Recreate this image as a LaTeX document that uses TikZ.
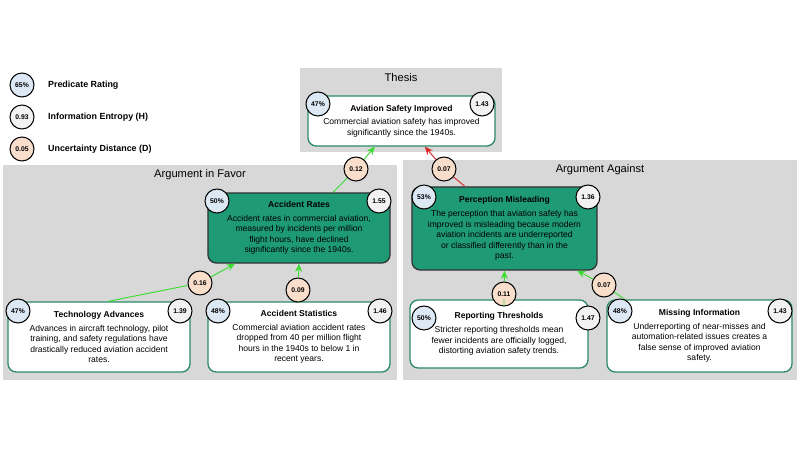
\documentclass[tikz,border=0pt]{standalone}
\usepackage{fontspec}
\setmainfont{Liberation Sans}
\usetikzlibrary{arrows.meta, positioning}
\definecolor{panelgray}{RGB}{216,216,216}
\definecolor{boxgreen}{RGB}{42,138,104}
\definecolor{darkfill}{RGB}{30,154,116}
\definecolor{ratefill}{RGB}{220,232,244}
\definecolor{entfill}{RGB}{242,242,242}
\definecolor{distfill}{RGB}{250,222,204}
\definecolor{proline}{RGB}{60,220,50}
\definecolor{conline}{RGB}{220,40,40}
\tikzset{
  panel/.style={fill=panelgray, draw=none},
  paneltitle/.style={font=\fontsize{9.5}{11}\selectfont},
  claim/.style={draw=boxgreen, fill=white, line width=1.1pt, rounded corners=7pt, align=center,
    font=\fontsize{7.3}{8.9}\selectfont, inner sep=2pt},
  keyclaim/.style={claim, draw=black!80, fill=darkfill},
  badge/.style={circle, draw=black, line width=0.9pt, minimum size=0.72cm, inner sep=0pt,
    font=\bfseries\fontsize{5.8}{6.5}\selectfont},
  rate/.style={badge, fill=ratefill},
  ent/.style={badge, fill=entfill},
  dist/.style={badge, fill=distfill},
  pro/.style={draw=proline, line width=0.8pt, -{Stealth[length=7pt,width=6pt]}},
  con/.style={draw=conline, line width=0.8pt, -{Stealth[length=7pt,width=6pt]}},
  legendtext/.style={anchor=west, font=\bfseries\fontsize{7.6}{9}\selectfont}
}
\begin{document}
\begin{tikzpicture}[x=0.03cm, y=-0.03cm]
\useasboundingbox (0,0) rectangle (800,450);
% panels
\fill[panel] (300,68) rectangle (502,152);
\fill[panel] (3,165) rectangle (397,380);
\fill[panel] (403,160) rectangle (797,380);
\node[paneltitle] (thesislbl) at (401,78) {Thesis};
\node[paneltitle] (favorlbl) at (200,175) {Argument in Favor};
\node[paneltitle] (againstlbl) at (600,170) {Argument Against};

% legend
\node[rate] (lrate) at (22,85) {65\%};
\node[ent] (lent) at (22,117) {0.93};
\node[dist] (ldist) at (22,149) {0.05};
\node[legendtext] (lratet) at (44,85) {Predicate Rating};
\node[legendtext] (lentt) at (44,117) {Information Entropy (H)};
\node[legendtext] (ldistt) at (44,149) {Uncertainty Distance (D)};

% claims
\node[claim, minimum width=5.61cm, minimum height=1.5cm] (th) at (401.5,121)
  {\textbf{Aviation Safety Improved}\\[3pt]Commercial aviation safety has improved\\significantly since the 1940s.};
\node[keyclaim, minimum width=5.46cm, minimum height=2.1cm] (ar) at (299,228)
  {\textbf{Accident Rates}\\[3pt]Accident rates in commercial aviation,\\measured by incidents per million\\flight hours, have declined\\significantly since the 1940s.};
\node[keyclaim, minimum width=5.55cm, minimum height=2.49cm] (pm) at (504.5,228.5)
  {\textbf{Perception Misleading}\\[3pt]The perception that aviation safety has\\improved is misleading because modern\\aviation incidents are underreported\\or classified differently than in the\\past.};
\node[claim, minimum width=5.46cm, minimum height=2.1cm] (ta) at (99,337)
  {\textbf{Technology Advances}\\[3pt]Advances in aircraft technology, pilot\\training, and safety regulations have\\drastically reduced aviation accident\\rates.};
\node[claim, minimum width=5.46cm, minimum height=2.1cm] (as) at (299,337)
  {\textbf{Accident Statistics}\\[3pt]Commercial aviation accident rates\\dropped from 40 per million flight\\hours in the 1940s to below 1 in\\recent years.};
\node[claim, minimum width=5.34cm, minimum height=2.04cm] (rt) at (499,334)
  {\textbf{Reporting Thresholds}\\[3pt]Stricter reporting thresholds mean\\fewer incidents are officially logged,\\distorting aviation safety trends.};
\node[claim, minimum width=5.55cm, minimum height=2.16cm] (mi) at (699.5,336)
  {\textbf{Missing Information}\\[3pt]Underreporting of near-misses and\\automation-related issues creates a\\false sense of improved aviation\\safety.};

% connectors
\node[dist] (d1) at (356,169) {0.12};
\node[dist] (d2) at (444,169) {0.07};
\node[dist] (d3) at (200,283) {0.16};
\node[dist] (d4) at (298,290) {0.09};
\node[dist] (d5) at (504,294) {0.11};
\node[dist] (d6) at (604,285) {0.07};
\draw[pro] ([xshift=1.02cm]ar.north) -- (d1) -- ([xshift=-0.8cm]th.south);
\draw[con] ([xshift=-1.19cm]pm.north) -- (d2) -- ([xshift=0.7cm]th.south);
\draw[pro] ([xshift=0.27cm]ta.north) -- (d3) -- ([xshift=-1.92cm]ar.south);
\draw[pro] (as.north) -- (d4) -- (ar.south);
\draw[pro] ([xshift=0.15cm]rt.north) -- (d5) -- (pm.south);
\draw[pro] ([xshift=-2.24cm]mi.north) -- (d6) -- ([xshift=2.18cm]pm.south);

% badges
\node[rate] (thr) at (318,104) {47\%};
\node[ent] (the) at (482,104) {1.43};
\node[rate] (arr) at (217,201) {50\%};
\node[ent] (are) at (379,201) {1.55};
\node[rate] (pmr) at (424,197) {53\%};
\node[ent] (pme) at (588,197) {1.36};
\node[rate] (tar) at (18,311) {47\%};
\node[ent] (tae) at (180,311) {1.39};
\node[rate] (asr) at (218,311) {48\%};
\node[ent] (ase) at (380,311) {1.46};
\node[rate] (rtr) at (424,318) {50\%};
\node[ent] (rte) at (588,318) {1.47};
\node[rate] (mir) at (620,311) {48\%};
\node[ent] (mie) at (780,311) {1.43};
\end{tikzpicture}
\end{document}
